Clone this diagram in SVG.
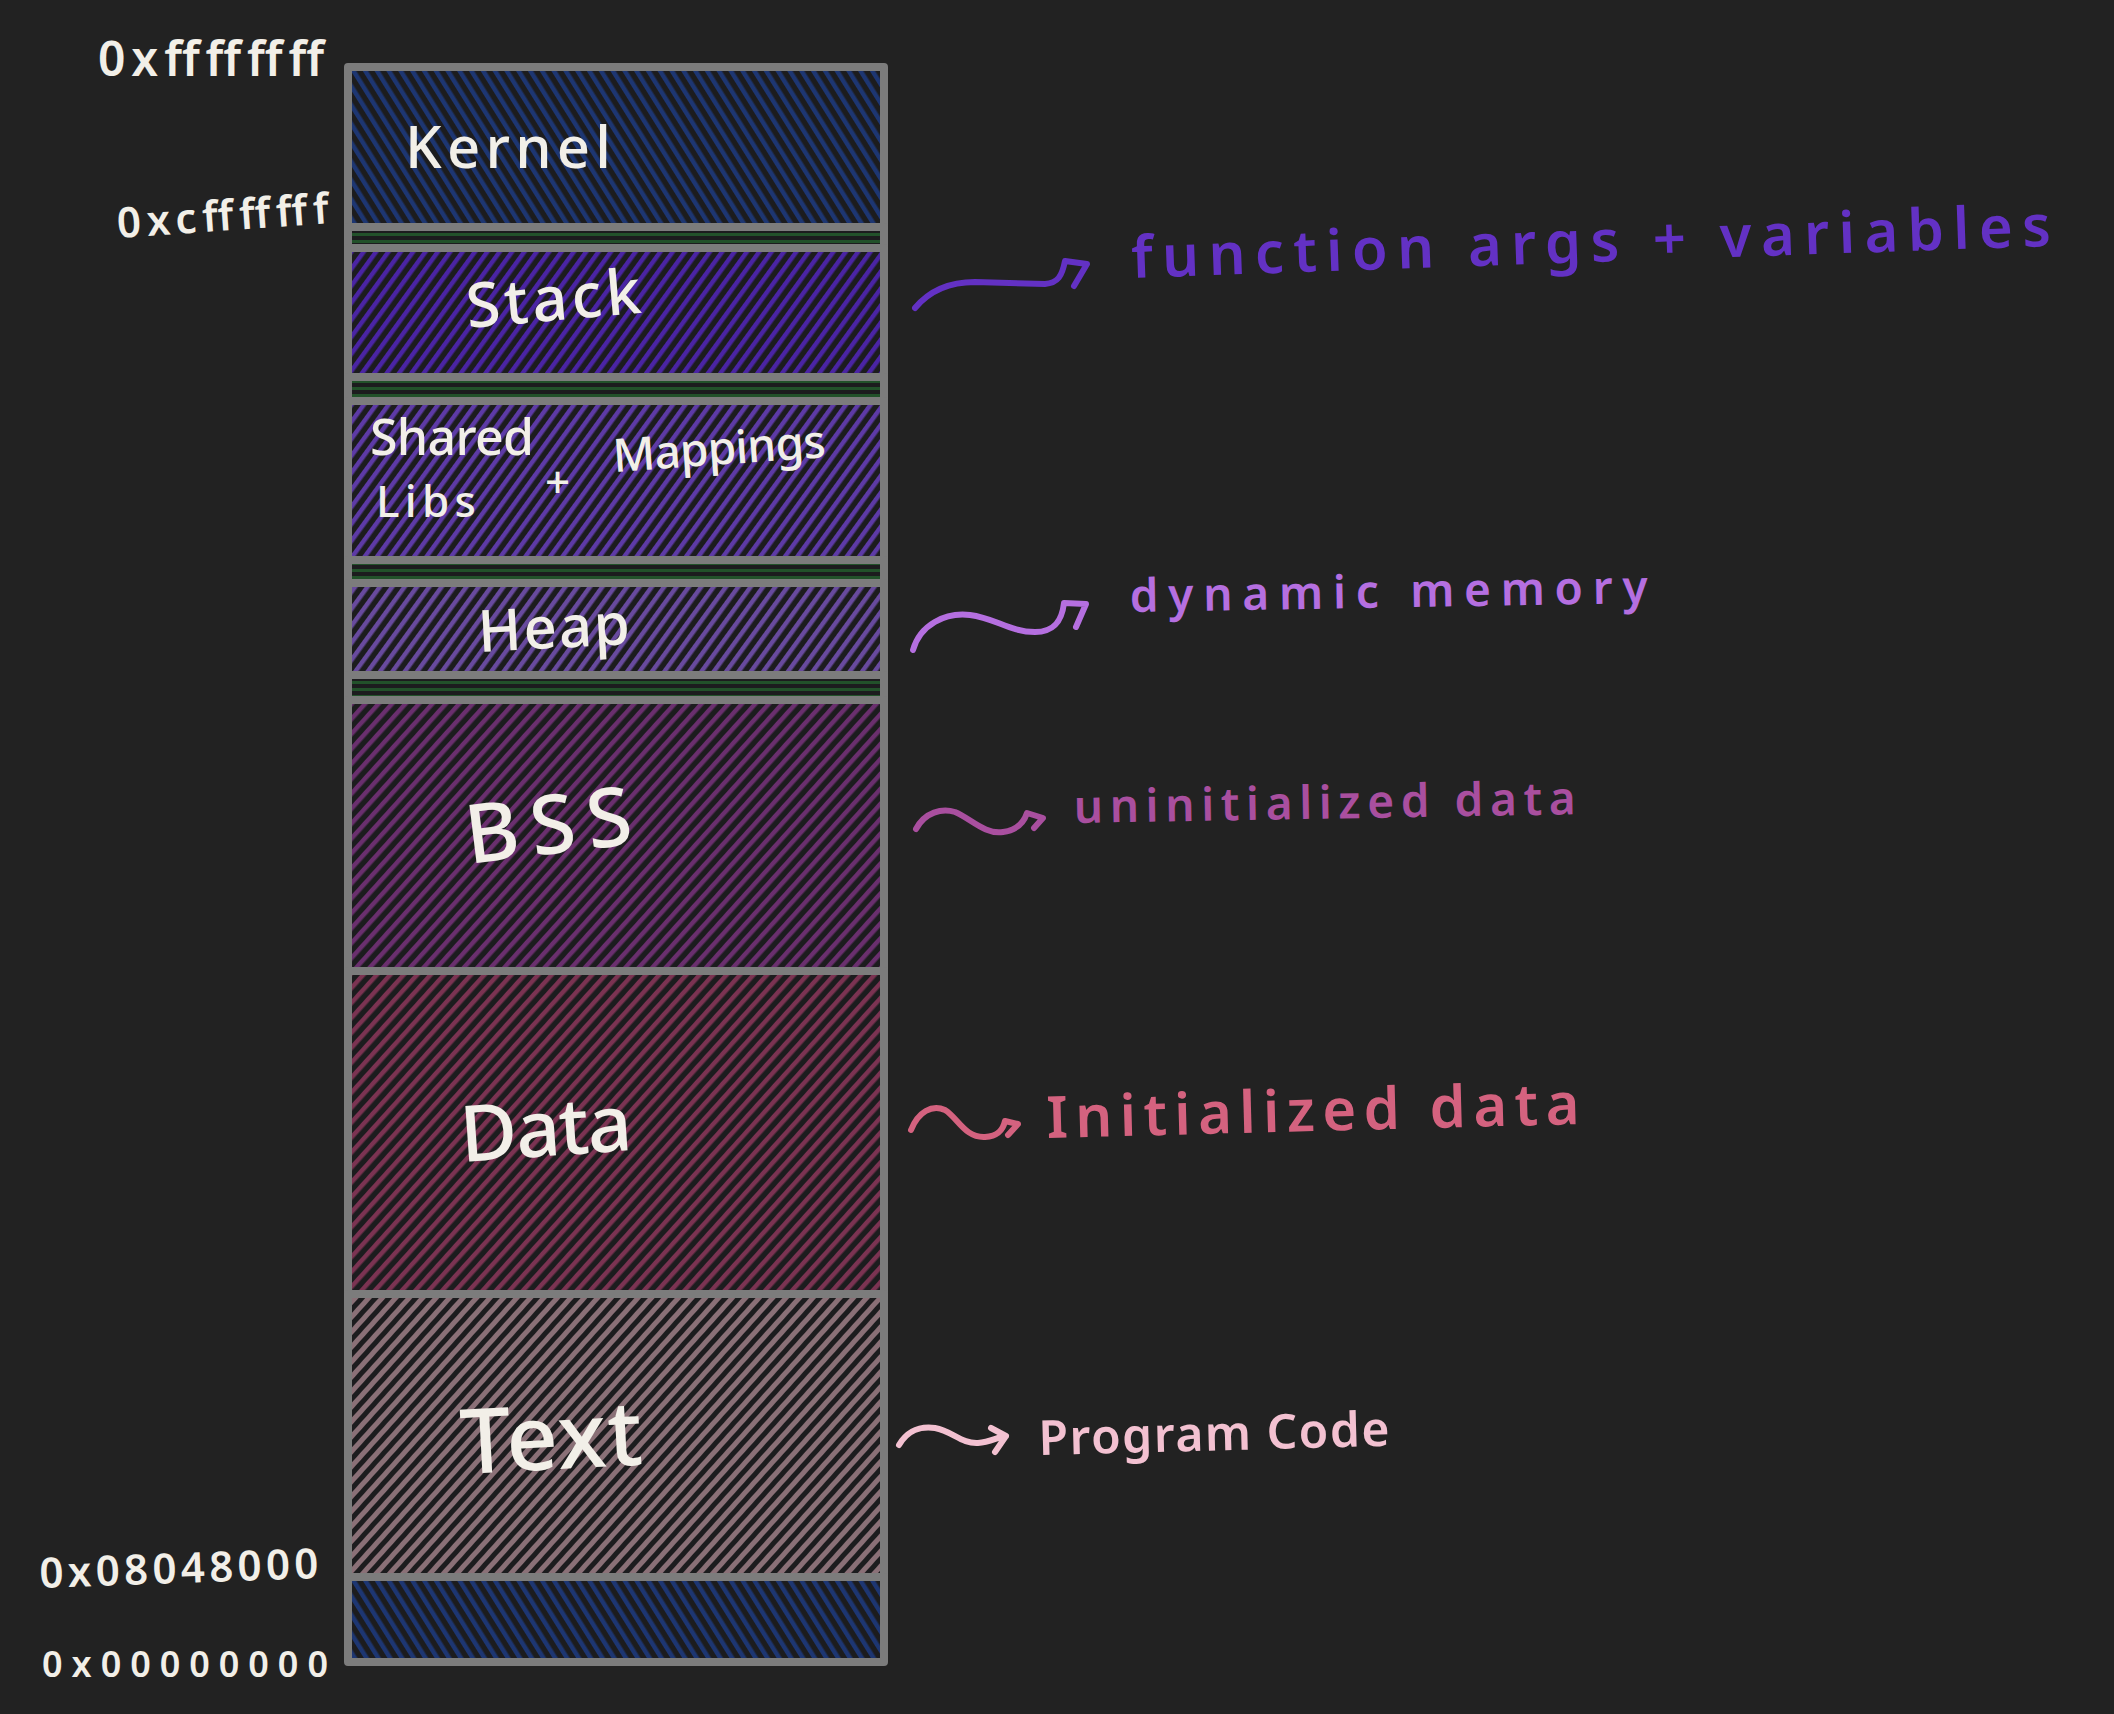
<svg xmlns="http://www.w3.org/2000/svg" width="2114" height="1714" viewBox="0 0 2114 1714">
<defs>
<style>
.blk{stroke:#7c7c7c;stroke-width:8;stroke-linejoin:round}
.lbl{font-family:"Noto Sans","Liberation Sans",sans-serif;font-weight:500;fill:#f2efe8}
.addr{font-family:"Noto Sans","Liberation Sans",sans-serif;font-weight:600;fill:#f2efe8}
.ann{font-family:"Noto Sans","Liberation Sans",sans-serif;font-weight:600}
.arr{fill:none;stroke-width:6;stroke-linecap:round;stroke-linejoin:round}
</style>
<pattern id="hKernel" width="10" height="10" patternUnits="userSpaceOnUse" patternTransform="rotate(-32)"><rect width="10" height="10" fill="#1c1c1e"/><rect width="4.5" height="10" fill="#1d3672"/></pattern>
<pattern id="hStack" width="10" height="10" patternUnits="userSpaceOnUse" patternTransform="rotate(36)"><rect width="10" height="10" fill="#1c1c1e"/><rect width="4.5" height="10" fill="#4a24a4"/></pattern>
<pattern id="hShared" width="10" height="10" patternUnits="userSpaceOnUse" patternTransform="rotate(36)"><rect width="10" height="10" fill="#1c1c1e"/><rect width="4.5" height="10" fill="#5d3aa6"/></pattern>
<pattern id="hHeap" width="10" height="10" patternUnits="userSpaceOnUse" patternTransform="rotate(36)"><rect width="10" height="10" fill="#1c1c1e"/><rect width="4.5" height="10" fill="#684a9e"/></pattern>
<pattern id="hBss" width="10" height="10" patternUnits="userSpaceOnUse" patternTransform="rotate(42)"><rect width="10" height="10" fill="#1c1c1e"/><rect width="4.5" height="10" fill="#6a2f6e"/></pattern>
<pattern id="hData" width="10" height="10" patternUnits="userSpaceOnUse" patternTransform="rotate(42)"><rect width="10" height="10" fill="#1c1c1e"/><rect width="4.5" height="10" fill="#7b3352"/></pattern>
<pattern id="hText" width="10" height="10" patternUnits="userSpaceOnUse" patternTransform="rotate(42)"><rect width="10" height="10" fill="#1c1c1e"/><rect width="5" height="10" fill="#8a7077"/></pattern>
<pattern id="hGap" width="10" height="7" patternUnits="userSpaceOnUse"><rect width="10" height="7" fill="#1c1c1e"/><rect y="2" width="10" height="3" fill="#22512a"/></pattern>
</defs>
<rect width="2114" height="1714" fill="#222222"/>

<g id="kernel"><rect class="blk" x="348" y="67" width="536" height="160" fill="url(#hKernel)"/><text class="lbl" x="405" y="168" font-size="58" textLength="206" lengthAdjust="spacing">Kernel</text></g>
<g id="gap1"><rect class="blk" x="348" y="227" width="536" height="21" fill="url(#hGap)"/></g>
<g id="stack"><rect class="blk" x="348" y="248" width="536" height="129" fill="url(#hStack)"/><text class="lbl" x="468" y="328" font-size="62" textLength="175" lengthAdjust="spacing" transform="rotate(-5 468 328)">Stack</text></g>
<g id="gap2"><rect class="blk" x="348" y="377" width="536" height="24" fill="url(#hGap)"/></g>
<g id="shared-libs"><rect class="blk" x="348" y="401" width="536" height="159" fill="url(#hShared)"/>
<text class="lbl" x="370" y="455" font-size="50" textLength="164" lengthAdjust="spacing">Shared</text>
<text class="lbl" x="376" y="517" font-size="44" textLength="100" lengthAdjust="spacing">Libs</text>
<text class="lbl" x="545" y="498" font-size="44">+</text>
<text class="lbl" x="614" y="472" font-size="46" textLength="213" lengthAdjust="spacing" transform="rotate(-4 614 472)">Mappings</text></g>
<g id="gap3"><rect class="blk" x="348" y="560" width="536" height="23" fill="url(#hGap)"/></g>
<g id="heap"><rect class="blk" x="348" y="583" width="536" height="92" fill="url(#hHeap)"/><text class="lbl" x="479" y="652" font-size="58" textLength="152" lengthAdjust="spacing" transform="rotate(-3 479 652)">Heap</text></g>
<g id="gap4"><rect class="blk" x="348" y="675" width="536" height="25" fill="url(#hGap)"/></g>
<g id="bss"><rect class="blk" x="348" y="700" width="536" height="271" fill="url(#hBss)"/><text class="lbl" x="469" y="864" font-size="82" textLength="167" lengthAdjust="spacing" transform="rotate(-7 469 864)">BSS</text></g>
<g id="data"><rect class="blk" x="348" y="971" width="536" height="323" fill="url(#hData)"/><text class="lbl" x="462" y="1162" font-size="78" textLength="172" lengthAdjust="spacing" transform="rotate(-4 462 1162)">Data</text></g>
<g id="text"><rect class="blk" x="348" y="1294" width="536" height="283" fill="url(#hText)"/><text class="lbl" x="462" y="1474" font-size="90" textLength="182" lengthAdjust="spacing" transform="rotate(-3 462 1474)">Text</text></g>
<g id="reserved"><rect class="blk" x="348" y="1577" width="536" height="85" fill="url(#hKernel)"/></g>

<g id="addresses">
<text class="addr" x="98" y="76" font-size="48" textLength="226" lengthAdjust="spacing">0xffffffff</text>
<text class="addr" x="118" y="238" font-size="42" textLength="212" lengthAdjust="spacing" transform="rotate(-4 118 238)">0xcfffffff</text>
<text class="addr" x="40" y="1588" font-size="42" textLength="279" lengthAdjust="spacing" transform="rotate(-2 40 1588)">0x08048000</text>
<text class="addr" x="42" y="1677" font-size="36" textLength="286" lengthAdjust="spacing">0x00000000</text>
</g>

<g id="connectors">
<path class="arr" stroke="#6331c4" d="M915,308 C930,290 950,282 975,282 L1045,284 C1058,283 1062,276 1065,261 L1087,264 L1074,286"/>
<path class="arr" stroke="#b56fe0" d="M913,650 C920,625 945,612 970,615 C995,618 1010,632 1035,632 C1055,632 1062,620 1064,603 L1086,604 L1076,627"/>
<path class="arr" stroke="#a94f9f" d="M916,829 C925,812 942,808 955,812 C970,818 985,835 1003,832 C1018,830 1024,822 1027,813 L1043,818 L1034,828"/>
<path class="arr" stroke="#d4627f" d="M911,1130 C918,1112 932,1104 945,1110 C958,1118 965,1138 985,1137 C998,1136 1003,1130 1005,1121 L1018,1124 L1008,1135"/>
<path class="arr" stroke="#f3c1d1" d="M899,1445 C908,1430 920,1426 935,1428 C952,1431 962,1444 978,1443 C990,1442 998,1437 1006,1436 M991,1428 L1006,1436 L995,1452"/>
</g>

<g id="annotations">
<text class="ann" fill="#6331c4" x="1132" y="278" font-size="58" textLength="920" lengthAdjust="spacing" transform="rotate(-2 1132 278)">function args + variables</text>
<text class="ann" fill="#b56fe0" x="1130" y="612" font-size="46" textLength="518" lengthAdjust="spacing" transform="rotate(-1 1130 612)">dynamic memory</text>
<text class="ann" fill="#a94f9f" x="1074" y="823" font-size="46" textLength="502" lengthAdjust="spacing" transform="rotate(-1 1074 823)">uninitialized data</text>
<text class="ann" fill="#d4627f" x="1047" y="1138" font-size="58" textLength="533" lengthAdjust="spacing" transform="rotate(-1.5 1047 1138)">Initialized data</text>
<text class="ann" fill="#f3c1d1" x="1039" y="1455" font-size="48" textLength="351" lengthAdjust="spacing" transform="rotate(-1.5 1039 1455)">Program Code</text>
</g>
</svg>
